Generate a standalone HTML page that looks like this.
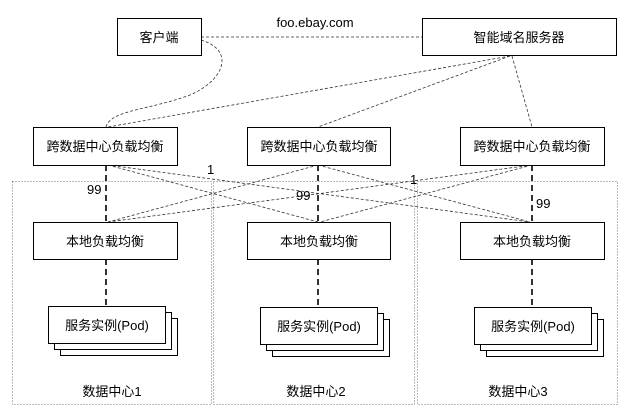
<!DOCTYPE html>
<html><head><meta charset="utf-8"><style>
html,body{margin:0;padding:0;background:#fff;}
svg{display:block;}
text{font-family:"Liberation Sans","Noto Sans CJK SC",sans-serif;font-size:13px;fill:#000;}
</style></head><body>
<svg width="638" height="420" viewBox="0 0 638 420" xmlns="http://www.w3.org/2000/svg">
<g fill="none" stroke="#777" stroke-width="1" stroke-dasharray="1,2">
<rect x="12.5" y="181.5" width="199" height="223"/>
<rect x="213.5" y="181.5" width="201" height="223"/>
<rect x="417.5" y="181.5" width="200" height="223"/>
</g>
<g fill="none" stroke="#333" stroke-width="0.8" stroke-dasharray="3,2">
<line x1="201" y1="37" x2="422" y2="37"/>
<path d="M201,40 C235,50 225,80 190,95 C150,110 110,110 106,127"/>
<line x1="510" y1="56" x2="108" y2="127"/>
<line x1="510" y1="56" x2="318" y2="127"/>
<line x1="512" y1="56" x2="532" y2="127"/>
<line x1="108" y1="165" x2="318" y2="222"/>
<line x1="108" y1="165" x2="530" y2="222"/>
<line x1="318" y1="165" x2="108" y2="222"/>
<line x1="318" y1="165" x2="530" y2="222"/>
<line x1="532" y1="165" x2="108" y2="222"/>
<line x1="532" y1="165" x2="320" y2="222"/>
</g>
<g stroke="#000" stroke-width="1.6" stroke-dasharray="6,4">
<line x1="106" y1="165" x2="106" y2="222"/>
<line x1="318" y1="165" x2="318" y2="222"/>
<line x1="532" y1="165" x2="532" y2="222"/>
<line x1="106" y1="259" x2="106" y2="306"/>
<line x1="318" y1="259" x2="318" y2="307"/>
<line x1="532" y1="259" x2="532" y2="307"/>
</g>
<g fill="#fff" stroke="#000" stroke-width="1">
<rect x="117.5" y="18.5" width="84" height="37"/>
<rect x="422.5" y="18.5" width="194" height="37"/>
<rect x="33.5" y="127.5" width="144" height="38"/>
<rect x="247.5" y="127.5" width="143" height="38"/>
<rect x="460.5" y="127.5" width="144" height="38"/>
<rect x="33.5" y="222.5" width="144" height="37"/>
<rect x="247.5" y="222.5" width="143" height="37"/>
<rect x="460.5" y="222.5" width="144" height="37"/>
<rect x="60.5" y="318.5" width="117" height="37"/>
<rect x="54.5" y="312.5" width="117" height="37"/>
<rect x="48.5" y="306.5" width="117" height="37"/>
<rect x="272.5" y="319.5" width="117" height="37"/>
<rect x="266.5" y="313.5" width="117" height="37"/>
<rect x="260.5" y="307.5" width="117" height="37"/>
<rect x="486.5" y="319.5" width="117" height="37"/>
<rect x="480.5" y="313.5" width="117" height="37"/>
<rect x="474.5" y="307.5" width="117" height="37"/>
</g>
<g text-anchor="middle">
<text x="159" y="42">客户端</text>
<text x="519" y="42">智能域名服务器</text>
<text x="315" y="27">foo.ebay.com</text>
<text x="105" y="151">跨数据中心负载均衡</text>
<text x="319" y="151">跨数据中心负载均衡</text>
<text x="532" y="151">跨数据中心负载均衡</text>
<text x="105" y="246">本地负载均衡</text>
<text x="319" y="246">本地负载均衡</text>
<text x="532" y="246">本地负载均衡</text>
<text x="107" y="330">服务实例(Pod)</text>
<text x="319" y="331">服务实例(Pod)</text>
<text x="533" y="331">服务实例(Pod)</text>
<text x="112" y="396">数据中心1</text>
<text x="316" y="396">数据中心2</text>
<text x="518" y="396">数据中心3</text>
</g>
<text x="87" y="194">99</text>
<text x="207" y="174">1</text>
<text x="296" y="200">99</text>
<text x="410" y="184">1</text>
<text x="536" y="208">99</text>
</svg>
</body></html>
